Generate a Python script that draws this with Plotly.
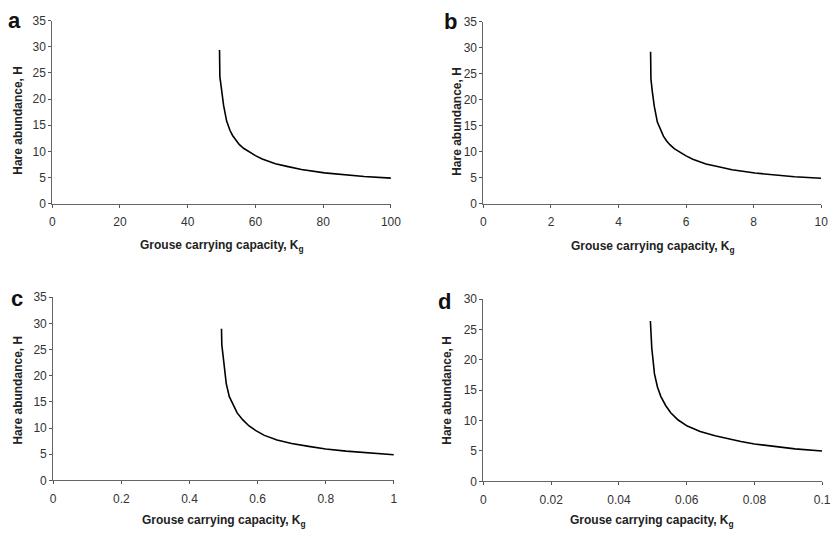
import plotly.graph_objects as go

# ---- data ----
k_a = [49.4, 49.5, 50.0, 50.6, 51.5, 52.5, 53.3, 54.2, 55.2, 56.5, 58.1, 60.0, 62.0, 65.9, 69.3, 73.6, 80.4, 86.2, 92.1, 100.0]
h_a = [29.4, 24.3, 21.8, 18.8, 15.8, 14.0, 13.0, 12.1, 11.35, 10.6, 9.9, 9.2, 8.55, 7.65, 7.15, 6.55, 5.9, 5.5, 5.2, 4.9]

k_b = [4.95, 4.96, 5.0, 5.06, 5.15, 5.25, 5.33, 5.42, 5.52, 5.65, 5.81, 6.0, 6.2, 6.59, 6.93, 7.36, 8.04, 8.62, 9.21, 10.0]
h_b = [29.2, 24.0, 21.6, 18.7, 15.7, 14.0, 13.0, 12.1, 11.35, 10.6, 9.9, 9.2, 8.55, 7.65, 7.15, 6.55, 5.9, 5.5, 5.2, 4.9]

k_c = [0.494, 0.495, 0.5005, 0.508, 0.517, 0.527, 0.54, 0.556, 0.575, 0.595, 0.62, 0.657, 0.7, 0.75, 0.8, 0.86, 0.92, 1.0]
h_c = [29.0, 25.9, 22.8, 18.5, 16.0, 14.5, 12.9, 11.6, 10.4, 9.5, 8.6, 7.7, 7.05, 6.5, 6.0, 5.6, 5.25, 4.9]

k_d = [0.0493, 0.0494, 0.0497, 0.0505, 0.0514, 0.0524, 0.0538, 0.0553, 0.0575, 0.0602, 0.064, 0.0684, 0.072, 0.076, 0.08, 0.086, 0.092, 0.1]
h_d = [26.4, 24.0, 22.0, 17.7, 15.5, 13.96, 12.5, 11.3, 10.1, 9.1, 8.2, 7.5, 7.0, 6.55, 6.15, 5.7, 5.35, 5.0]

x_ticks_a = [0, 20, 40, 60, 80, 100]
x_ticks_b = [0, 2, 4, 6, 8, 10]
x_ticks_c = [0, 0.2, 0.4, 0.6, 0.8, 1]
x_ticks_d = [0, 0.02, 0.04, 0.06, 0.08, 0.1]
x_labels_c = ["0", "0.2", "0.4", "0.6", "0.8", "1"]
x_labels_d = ["0", "0.02", "0.04", "0.06", "0.08", "0.1"]
y_ticks_35 = [0, 5, 10, 15, 20, 25, 30, 35]
y_ticks_30 = [0, 5, 10, 15, 20, 25, 30]
panel_letters = ["a", "b", "c", "d"]
x_title = "Grouse carrying capacity, K<sub>g</sub>"
y_title = "Hare abundance, H"

W, H = 839, 539
FONT = "Liberation Sans, Arial, sans-serif"

fig = go.Figure()

panels = [
    dict(k=k_a, h=h_a, xt=x_ticks_a, xl=[str(v) for v in x_ticks_a], yt=y_ticks_35,
         xr=[0, 100], yr=[0, 35], px=(50, 394), py=(14, 202),
         letter=(12, 14), ytit=(15, 116), xtit=(222, 245)),
    dict(k=k_b, h=h_b, xt=x_ticks_b, xl=[str(v) for v in x_ticks_b], yt=y_ticks_35,
         xr=[0, 10], yr=[0, 35], px=(488, 831), py=(15, 202),
         letter=(455, 15), ytit=(461, 117), xtit=(660, 246)),
    dict(k=k_c, h=h_c, xt=x_ticks_c, xl=x_labels_c, yt=y_ticks_35,
         xr=[0, 1], yr=[0, 35], px=(51, 397), py=(298, 486),
         letter=(14, 299), ytit=(15, 393), xtit=(224, 528)),
    dict(k=k_d, h=h_d, xt=x_ticks_d, xl=x_labels_d, yt=y_ticks_30,
         xr=[0, 0.1], yr=[0, 30], px=(488, 832), py=(300, 487),
         letter=(448, 302), ytit=(451, 394), xtit=(659, 528)),
]

layout = dict(
    width=W, height=H,
    margin=dict(l=0, r=0, t=0, b=0),
    paper_bgcolor="white", plot_bgcolor="white",
    showlegend=False,
    font=dict(family=FONT, size=12, color="#333333"),
    annotations=[],
)

for i, p in enumerate(panels):
    n = "" if i == 0 else str(i + 1)
    fig.add_trace(go.Scatter(
        x=p["k"], y=p["h"], mode="lines",
        line=dict(color="black", width=1.6),
        xaxis="x" + n, yaxis="y" + n, hoverinfo="skip",
    ))
    layout["xaxis" + n] = dict(
        domain=[p["px"][0] / W, p["px"][1] / W],
        range=p["xr"], anchor="y" + n,
        tickvals=p["xt"], ticktext=p["xl"],
        showgrid=False, zeroline=False,
        showline=True, linecolor="#666666", linewidth=1,
        ticks="outside", ticklen=3, tickcolor="#555555",
        tickfont=dict(size=12, color="#333333"),
        ticklabelstandoff=4,
    )
    layout["yaxis" + n] = dict(
        domain=[1 - p["py"][1] / H, 1 - p["py"][0] / H],
        range=p["yr"], anchor="x" + n,
        tickvals=p["yt"],
        showgrid=False, zeroline=False,
        showline=True, linecolor="#666666", linewidth=1,
        ticks="outside", ticklen=3, tickcolor="#555555",
        tickfont=dict(size=12, color="#333333"),
    )
    lx, ly = p["letter"]
    layout["annotations"].append(dict(
        text="<b>%s</b>" % panel_letters[i], x=lx / W, y=1 - ly / H,
        xref="paper", yref="paper", xanchor="center", yanchor="middle",
        showarrow=False, font=dict(size=22, color="#111111", family=FONT)))
    tx, ty = p["ytit"]
    layout["annotations"].append(dict(
        text="<b>%s</b>" % y_title, x=tx / W, y=1 - ty / H,
        xref="paper", yref="paper", xanchor="center", yanchor="middle",
        textangle=-90, showarrow=False,
        font=dict(size=12, color="#222222", family=FONT)))
    gx, gy = p["xtit"]
    layout["annotations"].append(dict(
        text="<b>%s</b>" % x_title, x=gx / W, y=1 - gy / H,
        xref="paper", yref="paper", xanchor="center", yanchor="middle",
        showarrow=False,
        font=dict(size=12, color="#222222", family=FONT)))

fig.update_layout(**layout)
fig.write_html("out.html")
